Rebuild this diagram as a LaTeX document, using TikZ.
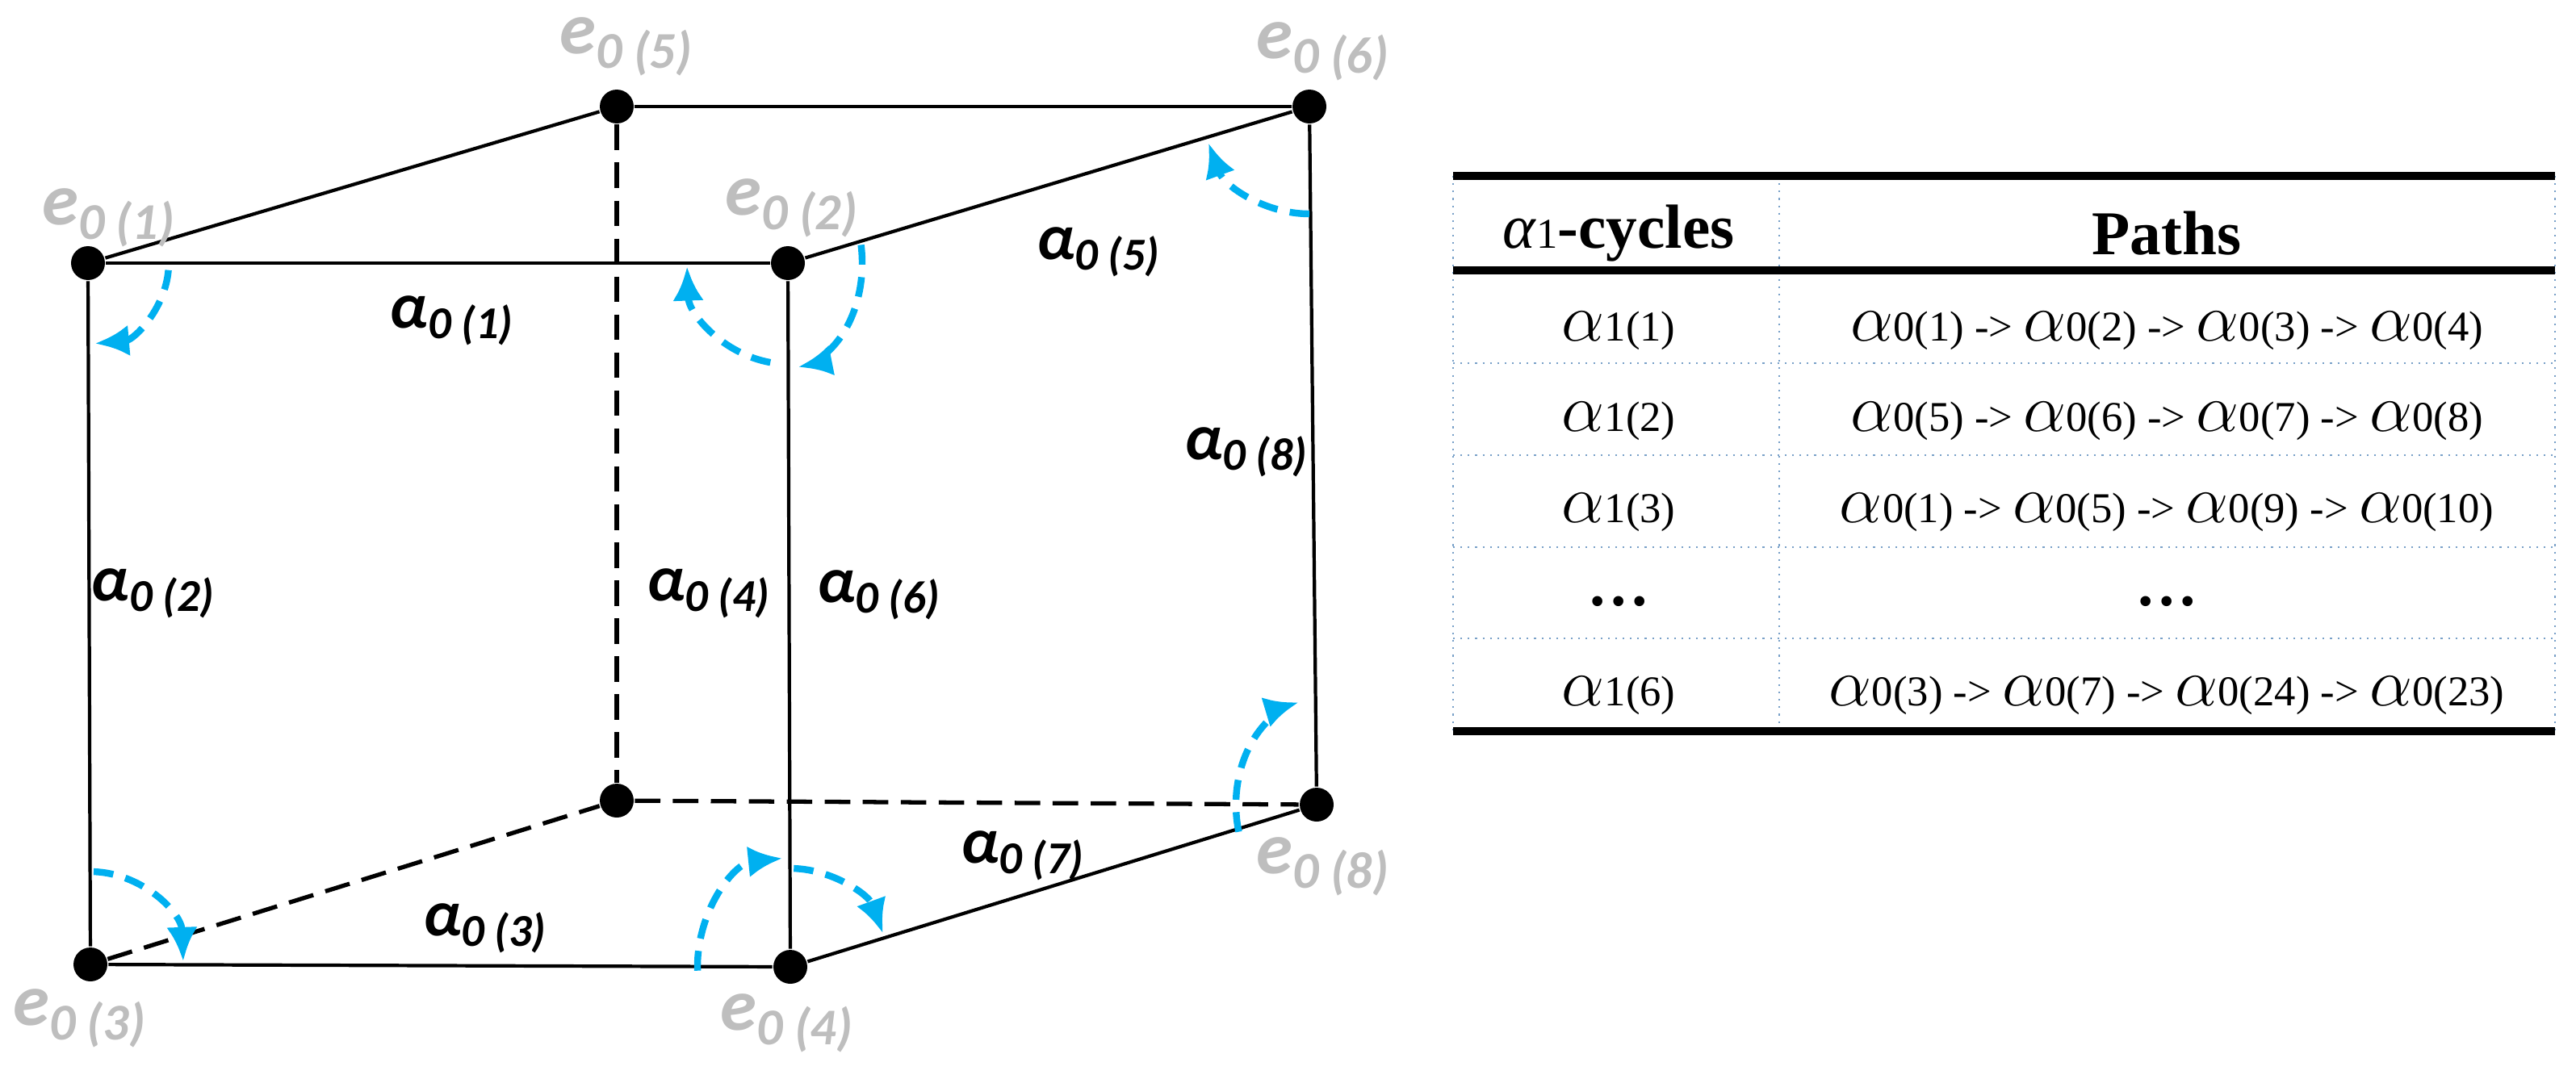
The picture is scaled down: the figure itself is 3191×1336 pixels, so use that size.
\documentclass[tikz,border=0pt]{standalone}
\usepackage{fontspec}
\setmainfont{Liberation Serif}
\newfontfamily\lblfont{Carlito}
\usetikzlibrary{arrows.meta}
\definecolor{cyanb}{RGB}{0,176,240}
\definecolor{lgray}{RGB}{190,190,190}
\definecolor{sepblue}{RGB}{120,160,200}
\newcommand{\ga}[2]{{\fontsize{12.5}{12}\selectfont$\alpha$}#1(#2)}
\newcommand{\ar}{\ ->\ }
\begin{document}
\begin{tikzpicture}[x=0.005cm,y=-0.005cm,
  vtx/.style={circle,fill=black,inner sep=0pt,minimum size=0.21cm},
  edge/.style={line width=0.6pt},
  hidden/.style={line width=0.75pt,dash pattern=on 4.5pt off 2.2pt},
  turn/.style={cyanb,line width=1.2pt,dash pattern=on 3.5pt off 2.2pt,-{Latex[length=6pt,width=5.5pt]}},
  elab/.style={font=\lblfont\bfseries\itshape\fontsize{13}{13}\selectfont,text=lgray,inner sep=0pt},
  alab/.style={font=\lblfont\bfseries\itshape\fontsize{11.5}{11}\selectfont,inner sep=0pt},
  cell/.style={font=\fontsize{7.5}{9}\selectfont,inner sep=0pt},
  thick rule/.style={line width=1.4pt},
  sep/.style={sepblue,line width=0.3pt,densely dotted}]
\useasboundingbox (0,0) rectangle (3191,1336);
% vertices
\node[vtx] (v1) at (109,326) {};
\node[vtx] (v2) at (976,326) {};
\node[vtx] (v5) at (764,132) {};
\node[vtx] (v6) at (1622,132) {};
\node[vtx] (v3) at (112,1195) {};
\node[vtx] (v4) at (979,1198) {};
\node[vtx] (v7) at (764,992) {};
\node[vtx] (v8) at (1631,997) {};
% edges
\draw[edge] (v1) -- (v2);
\draw[edge] (v1) -- (v5);
\draw[edge] (v5) -- (v6);
\draw[edge] (v2) -- (v6);
\draw[edge] (v1) -- (v3);
\draw[edge] (v2) -- (v4);
\draw[edge] (v6) -- (v8);
\draw[edge] (v3) -- (v4);
\draw[edge] (v4) -- (v8);
\draw[hidden] (v5) -- (v7);
\draw[hidden] (v3) -- (v7);
\draw[hidden] (v7) -- (v8);
% vertex labels
\node[elab] (l1) at (136,270) {e\textsubscript{0 (1)}};
\node[elab] (l2) at (982,258) {e\textsubscript{0 (2)}};
\node[elab] (l5) at (777,58) {e\textsubscript{0 (5)}};
\node[elab] (l6) at (1640,64) {e\textsubscript{0 (6)}};
\node[elab] (l3) at (100,1262) {e\textsubscript{0 (3)}};
\node[elab] (l4) at (976,1268) {e\textsubscript{0 (4)}};
\node[elab] (l8) at (1640,1074) {e\textsubscript{0 (8)}};
% edge labels
\node[alab] (a1) at (561,397) {α\textsubscript{0 (1)}};
\node[alab] (a5) at (1362,312) {α\textsubscript{0 (5)}};
\node[alab] (a8) at (1545,560) {α\textsubscript{0 (8)}};
\node[alab] (a2) at (191,735) {α\textsubscript{0 (2)}};
\node[alab] (a4) at (879,735) {α\textsubscript{0 (4)}};
\node[alab] (a6) at (1090,737) {α\textsubscript{0 (6)}};
\node[alab] (a3) at (602,1150) {α\textsubscript{0 (3)}};
\node[alab] (a7) at (1268,1060) {α\textsubscript{0 (7)}};
% turning arcs
\draw[turn] ([shift={(5:100)}]v1.center) arc[start angle=5,end angle=85,radius=100];
\draw[turn] ([shift={(-10:92 and 130)}]v2.center) arc[start angle=-10,end angle=82,x radius=92,y radius=130];
\draw[turn] ([shift={(100:125)}]v2.center) arc[start angle=100,end angle=178,radius=125];
\draw[turn] ([shift={(90:133)}]v6.center) arc[start angle=90,end angle=160,radius=133];
\draw[turn] ([shift={(-88:115)}]v3.center) arc[start angle=-88,end angle=-2,radius=115];
\draw[turn] ([shift={(178:115 and 135)}]v4.center) arc[start angle=178,end angle=265,x radius=115,y radius=135];
\draw[turn] ([shift={(-88:122)}]v4.center) arc[start angle=-88,end angle=-20,radius=122];
\draw[turn] ([shift={(165:100 and 130)}]v8.center) arc[start angle=165,end angle=257,x radius=100,y radius=130];
% table
\coordinate (tl) at (1800,218);
\coordinate (tr) at (3165,218);
\coordinate (hl) at (1800,335);
\coordinate (hr) at (3165,335);
\coordinate (bl) at (1800,906);
\coordinate (br) at (3165,906);
\foreach \y in {450,564,678,791}{\draw[sep] (1800,\y) -- (3165,\y);}
\draw[sep] (2204,218) -- (2204,906);
\draw[sep] (1800,218) -- (1800,906);
\draw[sep] (3165,218) -- (3165,906);
\draw[thick rule] (tl) -- (tr);
\draw[thick rule] (hl) -- (hr);
\draw[thick rule] (bl) -- (br);
\node[cell,font=\fontsize{11}{12}\selectfont] (h1) at (2005,289) {\textit{α}{\fontsize{7.5}{7}\selectfont 1}\textbf{-cycles}};
\node[cell,font=\bfseries\fontsize{11}{12}\selectfont] (h2) at (2684,289) {Paths};
\node[cell] (r11) at (2005,410) {\ga{1}{1}};
\node[cell] (r12) at (2684,410) {\ga{0}{1}\ar\ga{0}{2}\ar\ga{0}{3}\ar\ga{0}{4}};
\node[cell] (r21) at (2005,522) {\ga{1}{2}};
\node[cell] (r22) at (2684,522) {\ga{0}{5}\ar\ga{0}{6}\ar\ga{0}{7}\ar\ga{0}{8}};
\node[cell] (r31) at (2005,635) {\ga{1}{3}};
\node[cell] (r32) at (2684,635) {\ga{0}{1}\ar\ga{0}{5}\ar\ga{0}{9}\ar\ga{0}{10}};
\node[cell,font=\fontsize{11}{11}\selectfont] (r41) at (2005,745) {\textbf{…}};
\node[cell,font=\fontsize{11}{11}\selectfont] (r42) at (2684,745) {\textbf{…}};
\node[cell] (r51) at (2005,862) {\ga{1}{6}};
\node[cell] (r52) at (2684,862) {\ga{0}{3}\ar\ga{0}{7}\ar\ga{0}{24}\ar\ga{0}{23}};
\end{tikzpicture}
\end{document}
